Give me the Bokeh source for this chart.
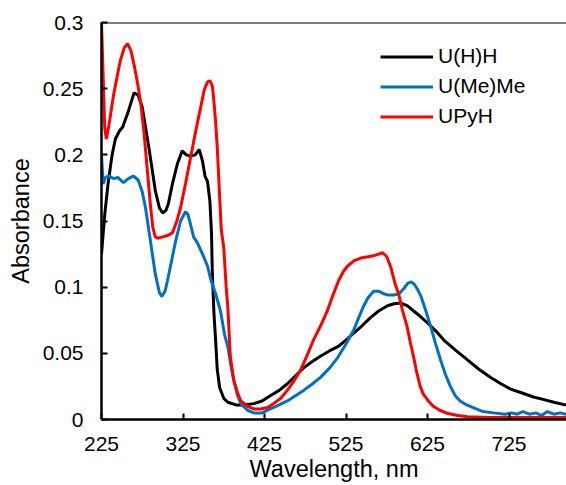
from bokeh.plotting import figure
from bokeh.models import Legend, LegendItem, Span, FixedTicker
from bokeh.embed import file_html
from bokeh.resources import INLINE

# ---- data ----
wl_uhh = [225, 229, 233, 238, 242, 247, 251, 258, 265, 270, 275, 283, 291, 296, 300, 304, 307,
          312, 318, 324, 329, 334, 340, 345, 349, 352, 355, 358, 360, 361, 363, 365, 367, 370,
          375, 380, 390, 400, 412, 422, 432, 443, 453, 463, 473, 484, 494, 505, 515, 525, 534,
          545, 555, 565, 576, 584, 592, 600, 608, 616, 625, 635, 645, 660, 674, 688, 702, 715,
          727, 741, 755, 768, 780, 795]
a_uhh = [0.125, 0.155, 0.178, 0.200, 0.212, 0.218, 0.221, 0.233, 0.247, 0.245, 0.236, 0.206,
         0.173, 0.160, 0.156, 0.158, 0.163, 0.178, 0.193, 0.203, 0.200, 0.199, 0.200, 0.204,
         0.195, 0.184, 0.180, 0.165, 0.140, 0.110, 0.080, 0.060, 0.038, 0.024, 0.016, 0.013,
         0.011, 0.011, 0.012, 0.014, 0.018, 0.022, 0.027, 0.033, 0.039, 0.044, 0.048, 0.052,
         0.055, 0.060, 0.065, 0.071, 0.077, 0.082, 0.086, 0.0875, 0.088, 0.086, 0.082, 0.078,
         0.073, 0.067, 0.060, 0.052, 0.045, 0.038, 0.032, 0.027, 0.023, 0.020, 0.017, 0.015,
         0.013, 0.011]

wl_umeme = [225, 227, 230, 234, 240, 245, 252, 258, 264, 270, 275, 279, 285, 291, 296, 299,
            303, 306, 311, 316, 322, 328, 331, 334, 338, 343, 349, 355, 359, 365, 371, 376,
            380, 384, 388, 392, 396, 404, 412, 422, 432, 443, 453, 463, 473, 484, 494, 505,
            515, 525, 534, 540, 546, 552, 559, 565, 571, 577, 583, 590, 596, 601, 605, 609,
            613, 617, 623, 629, 635, 641, 647, 653, 659, 665, 673, 681, 693, 706, 720, 728,
            735, 742, 750, 758, 765, 772, 780, 788, 795]
a_umeme = [0.200, 0.178, 0.183, 0.184, 0.182, 0.183, 0.179, 0.182, 0.184, 0.181, 0.172, 0.160,
           0.135, 0.110, 0.096, 0.093, 0.097, 0.105, 0.120, 0.135, 0.150, 0.157, 0.155, 0.148,
           0.138, 0.133, 0.125, 0.116, 0.106, 0.095, 0.082, 0.064, 0.055, 0.040, 0.028, 0.018,
           0.012, 0.007, 0.005, 0.005, 0.008, 0.011, 0.014, 0.018, 0.022, 0.027, 0.032, 0.039,
           0.047, 0.057, 0.067, 0.076, 0.085, 0.092, 0.097, 0.097, 0.095, 0.094, 0.094, 0.095,
           0.099, 0.103, 0.104, 0.102, 0.098, 0.093, 0.082, 0.070, 0.057, 0.045, 0.034, 0.025,
           0.018, 0.014, 0.011, 0.009, 0.006, 0.005, 0.004, 0.005, 0.004, 0.006, 0.004, 0.005,
           0.003, 0.006, 0.004, 0.005, 0.004]

wl_upyh = [225, 227, 229, 231, 234, 240, 248, 253, 257, 261, 265, 269, 273, 277, 281, 285,
           288, 291, 294, 300, 306, 312, 317, 322, 328, 334, 340, 346, 351, 355, 358, 361,
           363, 365, 367, 370, 372, 375, 378, 380, 383, 387, 392, 396, 404, 412, 420, 429,
           436, 445, 453, 461, 469, 477, 485, 494, 502, 509, 516, 522, 527, 535, 543, 552,
           560, 565, 570, 575, 580, 585, 590, 594, 600, 604, 608, 612, 616, 620, 626, 632,
           640, 650, 662, 674, 700, 730, 760, 795]
a_upyh = [0.300, 0.260, 0.220, 0.212, 0.222, 0.246, 0.271, 0.281, 0.284, 0.279, 0.268, 0.255,
          0.240, 0.218, 0.190, 0.162, 0.145, 0.138, 0.137, 0.138, 0.139, 0.141, 0.149, 0.160,
          0.178, 0.197, 0.216, 0.234, 0.249, 0.255, 0.256, 0.252, 0.240, 0.225, 0.206, 0.168,
          0.143, 0.130, 0.100, 0.085, 0.048, 0.030, 0.020, 0.014, 0.010, 0.008, 0.008, 0.009,
          0.012, 0.016, 0.022, 0.029, 0.037, 0.048, 0.060, 0.071, 0.082, 0.094, 0.105, 0.112,
          0.116, 0.120, 0.122, 0.123, 0.124, 0.125, 0.126, 0.123, 0.115, 0.103, 0.094, 0.083,
          0.070, 0.058, 0.047, 0.035, 0.025, 0.019, 0.014, 0.010, 0.007, 0.0045, 0.003, 0.002,
          0.0015, 0.0015, 0.0015, 0.0015]

series_names = ["U(H)H", "U(Me)Me", "UPyH"]
series_colors = ["black", "#0070C0", "#FF0000"]

x_ticks = [225, 325, 425, 525, 625, 725]
y_ticks = [0, 0.05, 0.1, 0.15, 0.2, 0.25, 0.3]
y_tick_labels = ["0", "0.05", "0.1", "0.15", "0.2", "0.25", "0.3"]

FONT = "Liberation Sans"

p = figure(width=566, height=485, x_range=(225, 795.5), y_range=(0, 0.3),
           output_backend="svg", toolbar_location=None,
           min_border_left=101, min_border_right=0, min_border_top=22, min_border_bottom=66)
p.outline_line_color = None
p.xgrid.visible = False
p.ygrid.visible = False
p.background_fill_color = "white"
p.border_fill_color = "white"

renderers = []
for xs, ys, c in [(wl_uhh, a_uhh, series_colors[0]),
                  (wl_umeme, a_umeme, series_colors[1]),
                  (wl_upyh, a_upyh, series_colors[2])]:
    r = p.line(xs, ys, line_color=c, line_width=3)
    renderers.append(r)

p.add_layout(Span(location=0.3, dimension="width", line_color="black", line_width=2))

for ax in (p.xaxis[0], p.yaxis[0]):
    ax.axis_line_width = 2.5
    ax.axis_line_color = "black"
    ax.major_tick_in = 6
    ax.major_tick_out = 0
    ax.major_tick_line_width = 2
    ax.minor_tick_line_color = None
    ax.major_label_text_font = FONT
    ax.major_label_text_font_size = "21px"
    ax.major_label_text_color = "black"
    ax.axis_label_text_font = FONT
    ax.axis_label_text_font_size = "23.5px"
    ax.axis_label_text_font_style = "normal"
    ax.axis_label_text_color = "black"

p.xaxis.ticker = FixedTicker(ticks=x_ticks)
p.yaxis.ticker = FixedTicker(ticks=y_ticks)
p.yaxis.major_label_overrides = {t: l for t, l in zip(y_ticks, y_tick_labels)}
p.xaxis.axis_label = "Wavelength, nm"
p.yaxis.axis_label = "Absorbance"
p.xaxis.major_label_standoff = 17
p.yaxis.major_label_standoff = 18
p.xaxis.axis_label_standoff = 2
p.yaxis.axis_label_standoff = 6

legend = Legend(items=[LegendItem(label=n, renderers=[r]) for n, r in zip(series_names, renderers)],
                location=(279, 291))
legend.border_line_color = None
legend.background_fill_alpha = 0
legend.padding = 0
legend.margin = 0
legend.spacing = 6
legend.glyph_width = 53
legend.glyph_height = 23
legend.label_height = 23
legend.label_standoff = 5
legend.label_text_font = FONT
legend.label_text_font_size = "21px"
legend.label_text_color = "black"
p.add_layout(legend)

open("out.html", "w").write(file_html(p, INLINE))
